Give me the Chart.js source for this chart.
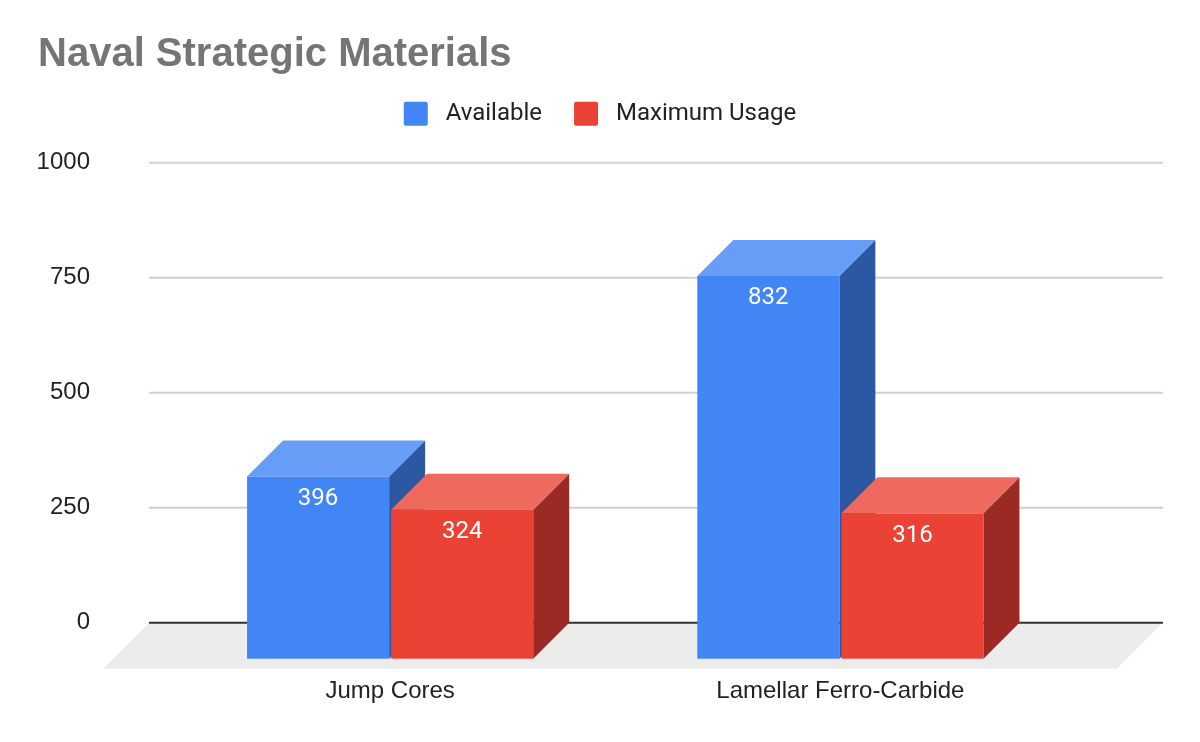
<!DOCTYPE html>
<html>
<head>
<meta charset="utf-8">
<script src="https://cdn.jsdelivr.net/npm/chart.js@4.4.0/dist/chart.umd.min.js"></script>
<style>
  html, body { margin: 0; padding: 0; background: #fff; }
</style>
</head>
<body>
<canvas id="chart" width="1200" height="742"></canvas>
<script>
// data
const categories = ['Jump Cores', 'Lamellar Ferro-Carbide'];
const available = [396, 832];
const maximumUsage = [324, 316];
const yTickStep = 250;
const yMax = 1000;

// 3d look
const DEPTH = 36;
const FLOOR_DEPTH = 46;
const faces = [
	{ front: '#4285f4', top: '#669df6', side: '#2c57a2' },
	{ front: '#ea4335', top: '#ee6a5e', side: '#9a2a23' }
];
const axisFont = { family: "'Liberation Sans', Arial, sans-serif", size: 24 };

const box3d = {
	id: 'box3d',
	beforeDatasetsDraw(chart)
	{
		const { ctx, chartArea: area, scales: { y } } = chart;
		const left = area.left - 52;
		const right = area.right + 61.5;
		const y0 = y.getPixelForValue(0);
		ctx.save();
		// floor
		ctx.fillStyle = '#ececec';
		ctx.beginPath();
		ctx.moveTo(left, y0);
		ctx.lineTo(right, y0);
		ctx.lineTo(right - FLOOR_DEPTH, y0 + FLOOR_DEPTH);
		ctx.lineTo(left - FLOOR_DEPTH, y0 + FLOOR_DEPTH);
		ctx.closePath();
		ctx.fill();
		// grid lines on the back wall
		ctx.strokeStyle = '#d0d0d0';
		ctx.lineWidth = 2;
		for (const t of y.ticks)
		{
			if (t.value === 0) continue;
			const py = y.getPixelForValue(t.value);
			ctx.beginPath();
			ctx.moveTo(left, py);
			ctx.lineTo(right, py);
			ctx.stroke();
		}
		// baseline
		ctx.strokeStyle = '#333333';
		ctx.lineWidth = 2;
		ctx.beginPath();
		ctx.moveTo(left, y0);
		ctx.lineTo(right, y0);
		ctx.stroke();
		ctx.restore();
	},
	beforeDatasetDraw()
	{
		return false;
	},
	afterDatasetsDraw(chart)
	{
		const ctx = chart.ctx;
		ctx.save();
		chart.data.datasets.forEach((ds, i) =>
		{
			const c = faces[i];
			chart.getDatasetMeta(i).data.forEach((bar, j) =>
			{
				const { x, y, base, width } = bar.getProps(['x', 'y', 'base', 'width'], true);
				const l = x - width / 2;
				const r = x + width / 2;
				// side
				ctx.fillStyle = c.side;
				ctx.beginPath();
				ctx.moveTo(r - DEPTH, y + DEPTH);
				ctx.lineTo(r, y);
				ctx.lineTo(r, base);
				ctx.lineTo(r - DEPTH, base + DEPTH);
				ctx.closePath();
				ctx.fill();
				// top
				ctx.fillStyle = c.top;
				ctx.beginPath();
				ctx.moveTo(l - DEPTH, y + DEPTH);
				ctx.lineTo(l, y);
				ctx.lineTo(r, y);
				ctx.lineTo(r - DEPTH, y + DEPTH);
				ctx.closePath();
				ctx.fill();
				// front
				ctx.fillStyle = c.front;
				ctx.fillRect(l - DEPTH, y + DEPTH, width, base - y);
				// value
				ctx.fillStyle = '#ffffff';
				ctx.font = "24px Roboto";
				ctx.textAlign = 'center';
				ctx.textBaseline = 'middle';
				ctx.fillText(String(ds.data[j]), x - DEPTH, y + DEPTH + 22.5);
			});
		});
		ctx.restore();
	}
};

new Chart(document.getElementById('chart').getContext('2d'),
{
	type: 'bar',
	plugins: [box3d],
	data:
	{
		labels: categories,
		datasets:
		[
			{ label: 'Available', data: available, backgroundColor: faces[0].front, borderWidth: 0, yAxisID: 'y', categoryPercentage: 0.64, barPercentage: 0.986 },
			{ label: 'Maximum Usage', data: maximumUsage, backgroundColor: faces[1].front, borderWidth: 0, yAxisID: 'y', categoryPercentage: 0.64, barPercentage: 0.986 }
		]
	},
	options:
	{
		responsive: false,
		animation: false,
		layout: { padding: { left: 38, right: 38, top: 0, bottom: 36.3 } },
		plugins:
		{
			title:
			{
				display: true,
				text: 'Naval Strategic Materials',
				align: 'start',
				color: '#757575',
				font: { family: "'Liberation Sans', Arial, sans-serif", size: 40, weight: 'bold', lineHeight: 1.2 },
				padding: { top: 31, bottom: -9.3 }
			},
			// spacer between legend and plot
			subtitle: { display: true, text: '', weight: 500, padding: 0, font: { size: 27, lineHeight: 1 } },
			legend:
			{
				position: 'top',
				align: 'center',
				labels:
				{
					boxWidth: 24,
					boxHeight: 24,
					padding: 32,
					color: '#222222',
					useBorderRadius: true,
					borderRadius: 2,
					font: { family: 'Roboto', size: 24 },
					generateLabels: (chart) =>
					{
						const items = Chart.defaults.plugins.legend.labels.generateLabels(chart);
						items.forEach((it) => { it.text = ' ' + it.text; });
						return items;
					}
				}
			},
			tooltip: { enabled: false }
		},
		scales:
		{
			x:
			{
				offset: true,
				grid: { display: false, drawTicks: false },
				border: { display: false },
				ticks: { labelOffset: -DEPTH, padding: 54.2, color: '#222222', font: axisFont },
				afterFit: (s) => { s.height = 83; s.paddingLeft = 0; s.paddingRight = 0; }
			},
			y:
			{
				min: 0,
				max: yMax,
				grid: { display: false, drawTicks: false },
				border: { display: false },
				ticks: { stepSize: yTickStep, padding: 111, color: '#222222', font: axisFont, callback: (v) => String(v) },
				afterFit: (s) => { s.width = 163; s.paddingTop = 0; s.paddingBottom = 0; }
			},
			yPad:
			{
				type: 'linear',
				axis: 'y',
				position: 'right',
				grid: { display: false, drawTicks: false },
				border: { display: false },
				ticks: { display: false },
				afterFit: (s) => { s.width = 60.5; s.paddingTop = 0; s.paddingBottom = 0; }
			}
		}
	}
});
</script>
</body>
</html>
